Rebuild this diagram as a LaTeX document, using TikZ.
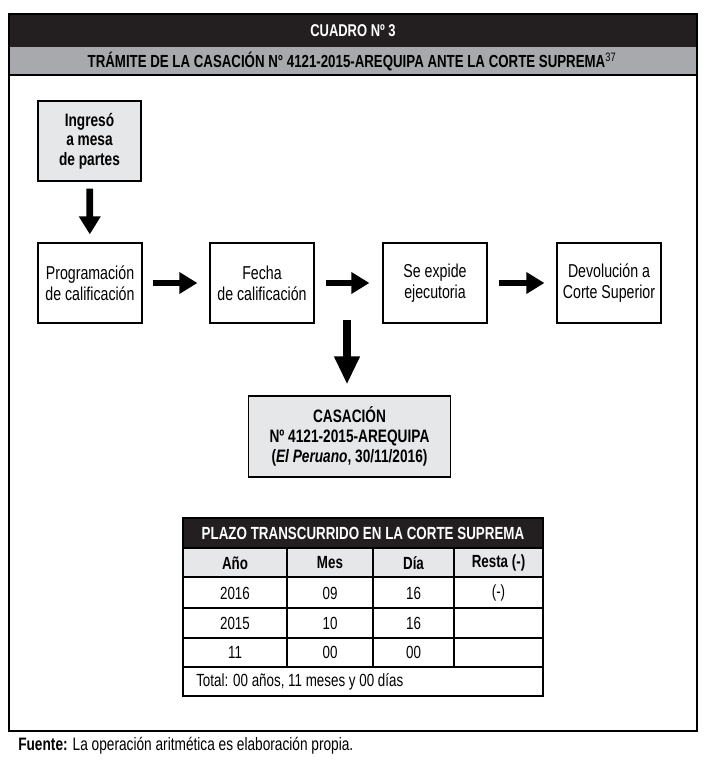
\documentclass[tikz,border=0pt]{standalone}
\usepackage{fontspec}
\setmainfont[FakeStretch=0.76]{Liberation Sans}
\usetikzlibrary{arrows.meta}
\definecolor{bandblack}{HTML}{231F20}
\definecolor{bandgray}{HTML}{A7A9AC}
\definecolor{boxgray}{HTML}{E6E7E8}
\tikzset{
  flowbox/.style={draw, line width=0.9pt, minimum width=78pt, minimum height=60pt, inner sep=0pt, align=center, font=\fontsize{14}{15.8}\selectfont},
  graybox/.style={flowbox, fill=boxgray, font=\bfseries\fontsize{13.5}{14.8}\selectfont},
  fatarrow/.style={line width=5pt, -{Triangle[length=13.5pt,width=15.5pt]}},
  bigarrow/.style={line width=6pt, -{Triangle[length=21pt,width=18pt]}},
  tabline/.style={line width=0.9pt},
  celltext/.style={inner sep=0pt, font=\fontsize{13.2}{15}\selectfont},
  cellhead/.style={inner sep=0pt, font=\bfseries\fontsize{13.2}{15}\selectfont},
}
\begin{document}
\begin{tikzpicture}[x=0.75pt,y=-0.75pt]
\useasboundingbox (0,0) rectangle (706,763);
% header bands
\fill[bandblack] (9,14) rectangle (697,47);
\fill[bandgray] (9,47) rectangle (697,75);
\draw[line width=1.1pt] (9,75) -- (697,75);
\draw[line width=1.1pt] (9,14) rectangle (697,731);
\node[font=\bfseries\fontsize{12.8}{15}\selectfont, text=white] (title) at (353,30.5) {CUADRO Nº 3};
\node[font=\bfseries\fontsize{13.1}{15}\selectfont] (subtitle) at (352,61) {TRÁMITE DE LA CASACIÓN N° 4121-2015-AREQUIPA ANTE LA CORTE SUPREMA\textsuperscript{\mdseries 37}};

% flow boxes
\node[graybox, minimum width=77.25pt] (ing) at (89.5,141) {Ingresó\\a mesa\\de partes};
\node[flowbox] (b1) at (90,283) {Programación\\de calificación};
\node[flowbox] (b2) at (262,283) {Fecha\\de calificación};
\node[flowbox] (b3) at (435,283) {Se expide\\ejecutoria};
\node[flowbox] (b4) at (609,283) {Devolución a\\Corte Superior};
\node[graybox, minimum width=152pt, minimum height=60.75pt] (cas) at (349.5,436.5) {CASACIÓN\\Nº 4121-2015-AREQUIPA\\(\textit{El Peruano}, 30/11/2016)};

% arrows
\draw[fatarrow, shorten <=5.25pt, shorten >=6pt] (ing) -- (b1);
\draw[fatarrow, shorten <=7.5pt, shorten >=9pt] (b1) -- (b2);
\draw[fatarrow, shorten <=8.25pt, shorten >=9.75pt] (b2) -- (b3);
\draw[fatarrow, shorten <=8.25pt, shorten >=9pt] (b3) -- (b4);
\coordinate (dstart) at (347,320);
\draw[bigarrow, shorten >=8.25pt] (dstart) -- (dstart |- cas.north);

% table
\fill[bandblack] (183,518) rectangle (543,548);
\fill[boxgray] (183,548) rectangle (543,577);
\draw[tabline] (183,518) rectangle (543,696);
\foreach \yy in {548,577,608,638,667} \draw[tabline] (183,\yy) -- (543,\yy);
\foreach \xx in {287,373,454} \draw[tabline] (\xx,548) -- (\xx,667);
\node[cellhead, text=white] (th) at (363,533.5) {PLAZO TRANSCURRIDO EN LA CORTE SUPREMA};
\node[cellhead] (h1) at (235,563) {Año};
\node[cellhead] (h2) at (330,563) {Mes};
\node[cellhead] (h3) at (413.5,563) {Día};
\node[cellhead] (h4) at (498.5,563) {Resta (-)};
\node[celltext] (r11) at (235,593) {2016};
\node[celltext] (r12) at (330,593) {09};
\node[celltext] (r13) at (413.5,593) {16};
\node[celltext] (r14) at (498.5,593) {(-)};
\node[celltext] (r21) at (235,623) {2015};
\node[celltext] (r22) at (330,623) {10};
\node[celltext] (r23) at (413.5,623) {16};
\node[celltext] (r31) at (235,652.5) {11};
\node[celltext] (r32) at (330,652.5) {00};
\node[celltext] (r33) at (413.5,652.5) {00};
\node[celltext, anchor=west] (tot) at (196,682) {Total: 00 años, 11 meses y 00 días};

% source
\node[anchor=base west, inner sep=0pt, font=\fontsize{13.5}{15}\selectfont] (src) at (18,750) {\textbf{Fuente:} La operación aritmética es elaboración propia.};
\end{tikzpicture}
\end{document}
